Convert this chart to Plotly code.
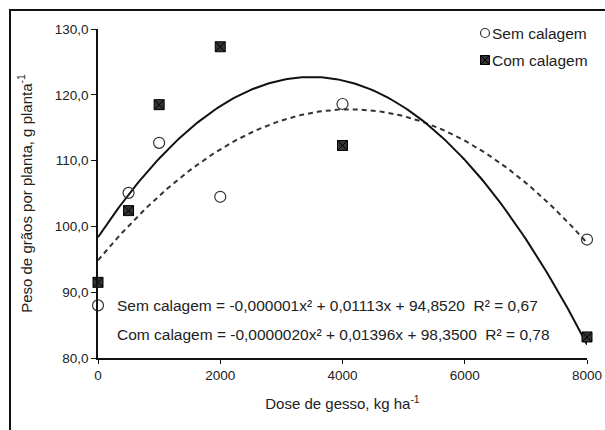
import numpy as np
import plotly.graph_objects as go

doses = [0, 500, 1000, 2000, 4000, 8000]
sem_calagem = [88.0, 105.1, 112.7, 104.5, 118.6, 98.0]
com_calagem = [91.5, 102.4, 118.5, 127.3, 112.3, 83.2]

# quadratic trend coefficients (a, b, c) as drawn in the picture
sem_coef = [-0.00000135, 0.01113, 94.852]
com_coef = [-0.0000020, 0.01396, 98.35]

series_names = ["Sem calagem", "Com calagem"]
eq_sem = "Sem calagem = -0,000001x² + 0,01113x + 94,8520  R² = 0,67"
eq_com = "Com calagem = -0,0000020x² + 0,01396x + 98,3500  R² = 0,78"

xs = np.linspace(0, 8000, 200)
def quad(c, x):
    return c[0] * x**2 + c[1] * x + c[2]

FONT = "Liberation Sans, Arial, sans-serif"
TXT = "#222"

W, H = 605, 430
L, T, R, B = 98, 29, 605 - 587, 430 - 358
PW, PH = W - L - R, H - T - B

fig = go.Figure()
fig.add_trace(go.Scatter(x=xs, y=quad(sem_coef, xs), mode="lines",
                         line=dict(color="#333", width=2, dash="5px,4px"),
                         showlegend=False, hoverinfo="skip"))
fig.add_trace(go.Scatter(x=xs, y=quad(com_coef, xs), mode="lines",
                         line=dict(color="#111", width=2),
                         showlegend=False, hoverinfo="skip"))
circle_marker = dict(symbol="circle-open", size=11, color="#333",
                     line=dict(width=1.2, color="#333"))
square_marker = dict(symbol="square-x", size=10, color="#333",
                     line=dict(width=1, color="#000"))
fig.add_trace(go.Scatter(x=doses, y=sem_calagem, mode="markers", name=series_names[0],
                         marker=circle_marker, cliponaxis=False, showlegend=False))
fig.add_trace(go.Scatter(x=doses, y=com_calagem, mode="markers", name=series_names[1],
                         marker=square_marker, cliponaxis=False, showlegend=False))

# legend drawn on an overlay axis in page-pixel units
leg_x = [485, 485]
leg_y = [33, 60]
fig.add_trace(go.Scatter(x=[leg_x[0]], y=[leg_y[0]], xaxis="x2", yaxis="y2",
                         mode="markers", marker=dict(circle_marker, size=9),
                         cliponaxis=False, showlegend=False, hoverinfo="skip"))
fig.add_trace(go.Scatter(x=[leg_x[1]], y=[leg_y[1]], xaxis="x2", yaxis="y2",
                         mode="markers", marker=dict(square_marker, size=9),
                         cliponaxis=False, showlegend=False, hoverinfo="skip"))
for name, lx, ly in zip(series_names, leg_x, leg_y):
    fig.add_annotation(x=lx + 5, y=ly, xref="x2", yref="y2", text=name,
                       showarrow=False, xanchor="left", yanchor="middle",
                       font=dict(family=FONT, size=15.5, color=TXT))

fig.add_annotation(x=0.035, xref="paper", y=88.05, yref="y", text=eq_sem,
                   showarrow=False, xanchor="left", yanchor="middle",
                   font=dict(family=FONT, size=15.5, color=TXT))
fig.add_annotation(x=0.035, xref="paper", y=83.5, yref="y", text=eq_com,
                   showarrow=False, xanchor="left", yanchor="middle",
                   font=dict(family=FONT, size=15.5, color=TXT))

# outer frame (partially cropped in the reference), page pixel 10
fig.add_shape(type="rect", xref="paper", yref="paper",
              x0=(10 - 98) / PW, x1=2.0, y0=-1.0, y1=(358 - 10) / PH,
              line=dict(color="#111", width=2), layer="below")

fig.update_layout(
    width=W, height=H,
    margin=dict(l=L, r=R, t=T, b=B),
    paper_bgcolor="white", plot_bgcolor="white",
    separators=",.",
    showlegend=False,
    font=dict(family=FONT, size=13.5, color=TXT),
    xaxis=dict(range=[0, 8000], tickvals=[0, 2000, 4000, 6000, 8000],
               automargin=False, ticklabeloverflow="allow",
               showgrid=False, zeroline=False, showline=True, linecolor="#111",
               linewidth=1.5, ticks="outside", ticklen=4, tickcolor="#111",
               tickfont=dict(size=13.5, family=FONT, color=TXT),
               title=dict(text="Dose de gesso, kg ha<sup>-1</sup>", standoff=17,
                          font=dict(size=15, family=FONT, color=TXT))),
    yaxis=dict(range=[80, 130], tickvals=[80, 90, 100, 110, 120, 130],
               tickformat=".1f", automargin=False,
               showgrid=False, zeroline=False, showline=True, linecolor="#111",
               linewidth=1.5, ticks="outside", ticklen=5, tickcolor="#111",
               tickfont=dict(size=13.5, family=FONT, color=TXT),
               title=dict(text="Peso de grãos por planta, g planta<sup>-1</sup>",
                          standoff=19, font=dict(size=15, family=FONT, color=TXT))),
    xaxis2=dict(overlaying="x", range=[98, 587], visible=False, domain=[0, 1]),
    yaxis2=dict(overlaying="y", anchor="x2", range=[358, 29], visible=False),
)

fig.write_html("out.html",
               config={"displayModeBar": False},
               post_script="document.body.style.margin='0';"
                           "document.body.style.overflow='hidden';")
